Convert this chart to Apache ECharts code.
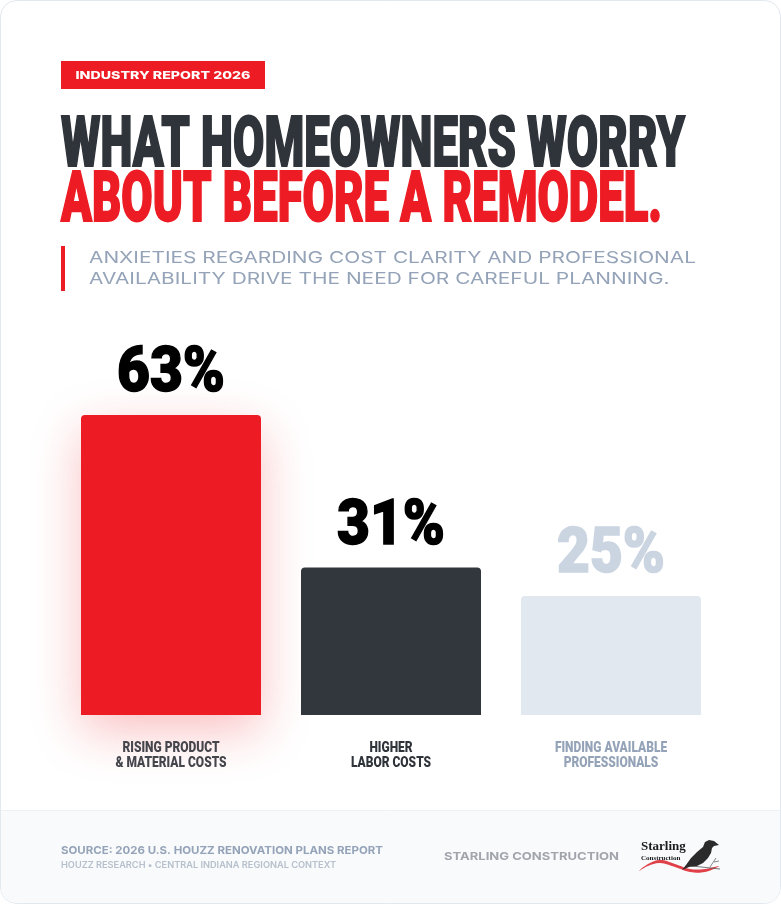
<!DOCTYPE html>
<html><head><meta charset="utf-8">
<script src="https://cdn.jsdelivr.net/npm/echarts@6/dist/echarts.min.js"></script>
<style>html,body{margin:0;padding:0;background:#fff;}#c{width:781px;height:904px;}</style>
</head><body><div id="c"></div>
<script>
// ---- data ----
const categories = ['RISING PRODUCT\n& MATERIAL COSTS', 'HIGHER\nLABOR COSTS', 'FINDING AVAILABLE\nPROFESSIONALS'];
const values = [63, 31, 25];
const barColors = ['#ED1C24', '#32363D', '#E2E8F0'];
const valueLabelColors = ['#000000', '#000000', '#CBD5E1'];
const categoryLabelColors = ['#45454c', '#2f343a', '#94a3b8'];
const tagText = 'INDUSTRY REPORT 2026';
const titleLine1 = 'WHAT HOMEOWNERS WORRY';
const titleLine2 = 'ABOUT BEFORE A REMODEL.';
const subtitleLines = ['ANXIETIES REGARDING COST CLARITY AND PROFESSIONAL', 'AVAILABILITY DRIVE THE NEED FOR CAREFUL PLANNING.'];
const sourceLine = 'SOURCE: 2026 U.S. HOUZZ RENOVATION PLANS REPORT';
const sourceSub = 'HOUZZ RESEARCH \u2022 CENTRAL INDIANA REGIONAL CONTEXT';
const brandName = 'STARLING CONSTRUCTION';

// ---- text fitting helper ----
const mctx = document.createElement('canvas').getContext('2d');
function fitScale(text, weight, size, family, target) {
  mctx.font = weight + ' ' + size + 'px ' + family;
  return target / mctx.measureText(text).width;
}
function txt(text, x, y, size, weight, family, fill, target, align, scaleOverride, strokeW) {
  const s = scaleOverride || fitScale(text, weight, size, family, target);
  const st = { text: text, fontSize: size, fontWeight: weight, fontFamily: family, fill: fill,
      align: align || 'left', verticalAlign: 'middle', lineHeight: size * 1.07 };
  if (strokeW) { st.stroke = fill; st.lineWidth = strokeW; }
  return { type: 'text', x: x, y: y, scaleX: s, z: 10, style: st };
}

const TF = 'Roboto';
const titleScale = fitScale(titleLine1, 900, 71, TF, 624);
const subScale = fitScale(subtitleLines[0], 400, 16, 'Inter', 607);
const valScale = fitScale('63%', 900, 63, TF, 108);
const catScale = fitScale('RISING PRODUCT', 900, 14, TF, 97);

const chart = echarts.init(document.getElementById('c'), null, { renderer: 'canvas' });
chart.setOption({
  backgroundColor: '#ffffff',
  animation: false,
  grid: { left: 61, width: 660, top: 415, height: 300 },
  xAxis: {
    type: 'category', data: categories,
    axisLine: { show: false }, axisTick: { show: false }, axisLabel: { show: false }
  },
  yAxis: { type: 'value', min: 0, max: 63, show: false, splitLine: { show: false } },
  series: [{
    type: 'bar', barWidth: 180, z: 3,
    data: values.map(function (v, i) {
      return {
        value: v,
        itemStyle: i === 0 ? { color: barColors[i], borderRadius: [4, 4, 0, 0], shadowBlur: 50, shadowColor: 'rgba(237,28,36,0.28)', shadowOffsetY: 16 }
                           : { color: barColors[i], borderRadius: [4, 4, 0, 0] }
      };
    })
  }]
});

// labels placed through the chart's own scales
const labelEls = [];
values.forEach(function (v, i) {
  const top = chart.convertToPixel({ seriesIndex: 0 }, [i, v]);
  const base = chart.convertToPixel({ seriesIndex: 0 }, [i, 0]);
  labelEls.push(txt(v + '%', top[0], top[1] - 39.5, 63, 900, TF, valueLabelColors[i], 0, 'center', valScale, 1.5));
  const lines = categories[i].split('\n');
  lines.forEach(function (ln, k) {
    labelEls.push(txt(ln, base[0], base[1] + 33 + k * 15, 14, 900, TF, categoryLabelColors[i], 0, 'center', catScale));
  });
});

chart.setOption({
  graphic: [
    // card
    { type: 'rect', z: -5, shape: { x: 0.5, y: 0.5, width: 780, height: 903, r: 16 }, style: { fill: '#ffffff', stroke: '#e2e8f0', lineWidth: 1 } },
    { type: 'rect', z: -4, shape: { x: 1, y: 810, width: 779, height: 93, r: [0, 0, 15, 15] }, style: { fill: '#f8fafc' } },
    { type: 'line', z: -4, shape: { x1: 1, y1: 810.5, x2: 780, y2: 810.5 }, style: { stroke: '#eef2f6', lineWidth: 1 } },
    // tag
    { type: 'rect', shape: { x: 61, y: 61, width: 204, height: 28 }, style: { fill: '#ED1C24' } },
    txt(tagText, 163, 76, 10.5, 800, 'Inter', '#ffffff', 175, 'center'),
    // title
    txt(titleLine1, 61, 148.5, 71, 900, TF, '#2f343a', 0, 'left', titleScale, 2),
    txt(titleLine2, 61, 203, 71, 900, TF, '#ED1C24', 0, 'left', titleScale, 2),
    // subtitle
    { type: 'rect', shape: { x: 61, y: 246, width: 4, height: 45 }, style: { fill: '#ED1C24' } },
    txt(subtitleLines[0], 89, 258, 16, 400, 'Inter', '#94a3b8', 0, 'left', subScale),
    txt(subtitleLines[1], 89, 279, 16, 400, 'Inter', '#94a3b8', 0, 'left', subScale),
    // footer
    txt(sourceLine, 61, 851, 11, 700, 'Inter', '#94a3b8', 322),
    txt(sourceSub, 61, 865, 8.5, 600, 'Inter', '#b6c0cc', 275),
    txt(brandName, 444, 857, 11, 700, 'Inter', '#a1a5ab', 175),
    // logo
    { type: 'text', x: 641, y: 847, z: 10, style: { text: 'Starling', fontSize: 13, fontWeight: 'bold', fontFamily: 'Liberation Serif', fill: '#1a1a1a', verticalAlign: 'middle' } },
    { type: 'text', x: 641, y: 858, z: 10, style: { text: 'Construction', fontSize: 7, fontWeight: 'bold', fontFamily: 'Liberation Serif', fill: '#1a1a1a', verticalAlign: 'middle' } },
    { type: 'polygon', z: 10, shape: { smooth: 0.4, points: [[639, 871], [648, 864], [660, 860], [675, 864], [690, 869], [705, 869], [719, 866], [705, 872], [690, 872], [675, 867], [660, 863], [648, 866]] }, style: { fill: '#e04048' } },
    { type: 'polygon', z: 11, shape: { points: [[719, 845], [714, 841], [709, 840], [705, 842], [703, 847], [697, 852], [691, 858], [686, 865], [682, 870], [689, 867], [697, 866], [703, 863], [708, 858], [711, 853], [712, 848], [714, 846]] }, style: { fill: '#2b2b2b' } },
    { type: 'line', z: 10, shape: { x1: 692, y1: 866, x2: 720, y2: 869 }, style: { stroke: '#555', lineWidth: 0.8 } },
    { type: 'line', z: 10, shape: { x1: 710, y1: 867, x2: 716, y2: 858 }, style: { stroke: '#555', lineWidth: 0.7 } },
    { type: 'line', z: 10, shape: { x1: 714, y1: 862, x2: 719, y2: 861 }, style: { stroke: '#555', lineWidth: 0.7 } }
  ].concat(labelEls)
});
</script></body></html>
